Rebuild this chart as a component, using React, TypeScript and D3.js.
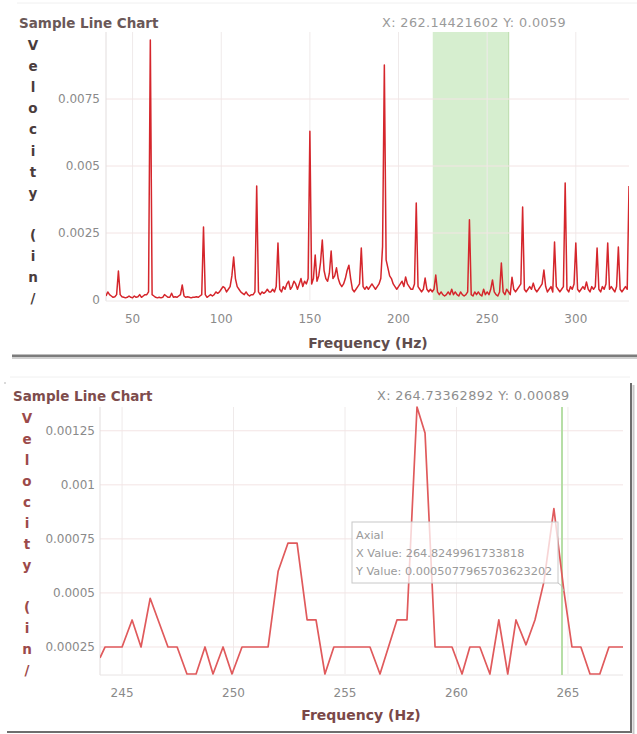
import React from "react";
import * as d3 from "d3";

// ---------- DATA ----------
// Top chart: full spectrum sampled every 1 Hz from 35 Hz to 330 Hz
const topStartHz = 35;
const topStepHz = 1;
const topVelocity = [
  0.00015, 0.0003, 0.0002, 0.00015, 0.0001, 0.00012, 0.0002, 0.00108, 0.0002, 0.00012,
  0.0001, 0.00008, 0.0001, 0.00015, 0.0001, 0.00008, 0.00015, 0.0001, 0.00012, 0.0002,
  0.0001, 0.00015, 0.0002, 0.0002, 0.0003, 0.0097, 0.0002, 0.00015, 0.0001, 0.00008,
  0.0001, 0.00008, 0.0001, 0.0002, 0.00015, 0.0001, 0.0001, 0.00025, 0.0001, 0.00012,
  0.0001, 0.00015, 0.0002, 0.00056, 0.00015, 0.0001, 0.00012, 0.0001, 0.00008, 0.0001,
  0.0001, 0.00012, 0.0001, 0.00015, 0.0002, 0.00272, 0.0002, 0.0001, 0.00015, 0.0002,
  0.00015, 0.0002, 0.0003, 0.00025, 0.0003, 0.0004, 0.0005, 0.00045, 0.0003, 0.0004,
  0.0005, 0.0009, 0.0016, 0.0008, 0.0005, 0.0004, 0.0003, 0.00025, 0.0002, 0.0003,
  0.0002, 0.00015, 0.0002, 0.0002, 0.0003, 0.00425, 0.0003, 0.0002, 0.0003, 0.00025,
  0.0003, 0.0004, 0.0003, 0.0003, 0.0004, 0.0003, 0.0005, 0.00213, 0.0004, 0.0003,
  0.0005, 0.0004, 0.0006, 0.0007, 0.0004, 0.0005, 0.0007, 0.0006, 0.0004, 0.0006,
  0.0008, 0.0005, 0.0007, 0.0006, 0.0008, 0.0063, 0.0006, 0.0008, 0.00168, 0.0007,
  0.0009, 0.0014, 0.00224, 0.0011, 0.0008, 0.0007, 0.001, 0.00183, 0.0008, 0.0009,
  0.0012, 0.0008, 0.0006, 0.0005, 0.0006, 0.0008, 0.0011, 0.0013, 0.0008, 0.0004,
  0.0003, 0.0004, 0.0005, 0.0006, 0.00194, 0.0005, 0.0004, 0.0005, 0.0004, 0.0005,
  0.0006, 0.0005, 0.0004, 0.0005, 0.0006, 0.0008, 0.002, 0.00877, 0.0015, 0.0012,
  0.0009, 0.0008, 0.0006, 0.0005, 0.0004, 0.0005, 0.0006, 0.0007, 0.0005, 0.00086,
  0.0006, 0.0005, 0.0004, 0.0004, 0.0006, 0.00362, 0.0005, 0.0004, 0.0003, 0.0004,
  0.00082, 0.0004, 0.0003, 0.0004, 0.0003, 0.0004, 0.00093, 0.0003, 0.0002, 0.0003,
  0.0002, 0.00015, 0.0002, 0.0003, 0.0002, 0.0004, 0.0002, 0.0003, 0.0002, 0.00015,
  0.0003, 0.0002, 0.00015, 0.0002, 0.0003, 0.00299, 0.0002, 0.00015, 0.0003, 0.0002,
  0.0003, 0.0002, 0.00015, 0.0004, 0.0002, 0.0003, 0.0002, 0.0004, 0.00075, 0.0003,
  0.0002, 0.00015, 0.0003, 0.00138, 0.0003, 0.0002, 0.0004, 0.0003, 0.0002, 0.00085,
  0.0004, 0.0003, 0.0004, 0.0005, 0.0006, 0.00347, 0.0004, 0.0003, 0.0004, 0.0005,
  0.0004, 0.00063, 0.0004, 0.0003, 0.0004, 0.0005, 0.0006, 0.00112, 0.0005, 0.0003,
  0.0004, 0.0005, 0.0003, 0.00216, 0.0005, 0.0004, 0.0003, 0.0004, 0.0005, 0.00437,
  0.0004, 0.0003, 0.0005, 0.0004, 0.0006, 0.00213, 0.0004, 0.0003, 0.0004, 0.0005,
  0.0004, 0.00067, 0.0004, 0.0003, 0.0005, 0.0004, 0.0005, 0.00194, 0.0004, 0.0003,
  0.0005, 0.0004, 0.0006, 0.00213, 0.0004, 0.0005, 0.0004, 0.0003, 0.0005, 0.00198,
  0.0004, 0.0003, 0.0004, 0.0005, 0.0004, 0.00425,
];
const topXTicks = [50, 100, 150, 200, 250, 300];
const topYTicks = [0, 0.0025, 0.005, 0.0075];
const topYTickLabels = ["0", "0.0025", "0.005", "0.0075"];
const topBand = [219.3, 262.14421602];
const topHeader = "X: 262.14421602 Y: 0.0059";

// Bottom chart: zoomed detail 244 - 267.5 Hz
const botFreq = [
  244.01, 244.24, 245.0, 245.45, 245.85, 246.26, 247.06, 247.47, 247.91, 248.32,
  248.72, 249.08, 249.53, 249.93, 250.38, 251.55, 252.0, 252.44, 252.85, 253.3,
  253.7, 254.1, 254.5, 256.12, 256.57, 257.33, 257.78, 258.23, 258.59, 259.04,
  259.8, 260.25, 260.6, 261.05, 261.5, 261.9, 262.3, 262.67, 263.12, 263.52,
  263.92, 264.37, 264.82, 265.18, 265.58, 265.99, 266.43, 266.84, 267.42, 267.47,
];
const botVelocity = [
  0.0002, 0.00025, 0.00025, 0.000375, 0.00025, 0.000475, 0.00025, 0.00025, 0.000125, 0.000125,
  0.00025, 0.000125, 0.00025, 0.000125, 0.00025, 0.00025, 0.0006, 0.00073, 0.00073, 0.000375,
  0.000375, 0.000125, 0.00025, 0.00025, 0.000125, 0.000375, 0.000375, 0.00136, 0.00124, 0.00025,
  0.00025, 0.000125, 0.00025, 0.00025, 0.000125, 0.000375, 0.000125, 0.000375, 0.00026, 0.000375,
  0.00055, 0.00089, 0.000508, 0.00025, 0.00025, 0.000125, 0.000125, 0.00025, 0.00025, 0.00025,
];
const botXTicks = [245, 250, 255, 260, 265];
const botYTicks = [0.00025, 0.0005, 0.00075, 0.001, 0.00125];
const botYTickLabels = ["0.00025", "0.0005", "0.00075", "0.001", "0.00125"];
const botCursorHz = 264.73362892;
const botHeader = "X: 264.73362892 Y: 0.00089";
const tooltipLines = ["Axial", "X Value: 264.8249961733818", "Y Value: 0.0005077965703623202"];
const tooltipPoint = [264.8249961733818, 0.0005077965703623202];

const chartTitle = "Sample Line Chart";
const xTitle = "Frequency (Hz)";
const yTitleChars = "Velocity (in/".split("");

const FONT = "'DejaVu Sans', Verdana, sans-serif";

export default function App() {
  // --- top scales ---
  const xTop = d3.scaleLinear().domain([35, 330]).range([106, 629]);
  const yTop = d3.scaleLinear().domain([0, 0.01]).range([300, 32]);
  const topPts: [number, number][] = topVelocity.map((v, i) => [topStartHz + i * topStepHz, v]);
  const topLine = d3
    .line<[number, number]>()
    .x((d) => xTop(d[0]))
    .y((d) => yTop(d[1]))(topPts);

  // --- bottom scales ---
  const xBot = d3.scaleLinear().domain([244.01, 267.47]).range([100, 623]);
  const yBot = d3.scaleLinear().domain([0.000125, 0.00136]).range([674, 407]);
  const botPts: [number, number][] = botFreq.map((f, i) => [f, botVelocity[i]]);
  const botLine = d3
    .line<[number, number]>()
    .x((d) => xBot(d[0]))
    .y((d) => yBot(d[1]))(botPts);

  const gridV = "#efeaea";
  const gridH = "#f3e4e4";
  const tickColor = "#8a8a8a";

  const tipX = xBot(tooltipPoint[0]);
  const tipY = yBot(tooltipPoint[1]);

  return (
    <svg
      width={637}
      height={734}
      style={{ position: "absolute", left: 0, top: 0, background: "#fff" }}
      fontFamily={FONT}
    >
      <defs>
        <clipPath id="clipTop">
          <rect x={106} y={32} width={523} height={270} />
        </clipPath>
        <clipPath id="clipBot">
          <rect x={100} y={405} width={523} height={270} />
        </clipPath>
      </defs>
      <rect x={0} y={0} width={637} height={734} fill="#fff" />

      {/* ================= TOP PANEL ================= */}
      <line x1={17} x2={637} y1={3} y2={3} stroke="#f0f0f0" />
      <text x={19} y={28} fontSize={13.5} fontWeight="bold" fill="#6a5858">
        {chartTitle}
      </text>
      <text x={382} y={27} fontSize={12.8} letterSpacing={0.4} fill="#9a9a9a">
        {topHeader}
      </text>

      {/* band */}
      <rect
        x={xTop(topBand[0])}
        y={32}
        width={xTop(topBand[1]) - xTop(topBand[0])}
        height={268}
        fill="#d6eecf"
      />
      <line
        x1={xTop(topBand[1])}
        x2={xTop(topBand[1])}
        y1={32}
        y2={300}
        stroke="#b9dcab"
        strokeWidth={1}
      />

      {/* grid */}
      {topXTicks.map((t) => (
        <line key={"tv" + t} x1={xTop(t)} x2={xTop(t)} y1={32} y2={300} stroke={gridV} />
      ))}
      {topYTicks.slice(1).map((t) => (
        <line key={"th" + t} x1={106} x2={629} y1={yTop(t)} y2={yTop(t)} stroke={gridH} />
      ))}
      <line x1={106} x2={106} y1={32} y2={301} stroke="#e2dddd" />
      <line x1={106} x2={629} y1={301} y2={301} stroke="#ece8e8" />

      {/* ticks */}
      {topYTicks.map((t, i) => (
        <text
          key={"tyl" + t}
          x={100}
          y={yTop(t)}
          textAnchor="end"
          dominantBaseline="central"
          fontSize={12}
          fill={tickColor}
        >
          {topYTickLabels[i]}
        </text>
      ))}
      {topXTicks.map((t) => (
        <text
          key={"txl" + t}
          x={xTop(t)}
          y={319}
          textAnchor="middle"
          dominantBaseline="central"
          fontSize={12}
          fill={tickColor}
        >
          {t}
        </text>
      ))}
      <text
        x={368}
        y={343}
        textAnchor="middle"
        dominantBaseline="central"
        fontSize={14}
        fontWeight="bold"
        fill="#5f4d4d"
      >
        {xTitle}
      </text>
      {yTitleChars.map((c, i) => (
        <text
          key={"tyc" + i}
          x={33}
          y={45 + i * 21.1}
          textAnchor="middle"
          dominantBaseline="central"
          fontSize={13.5}
          fontWeight="bold"
          fill="#4a3c3c"
        >
          {c}
        </text>
      ))}

      {/* series */}
      <path
        d={topLine || ""}
        fill="none"
        stroke="#d5262c"
        strokeWidth={1.5}
        strokeLinejoin="round"
        clipPath="url(#clipTop)"
      />

      {/* separator */}
      <rect x={12} y={354.5} width={625} height={2.5} fill="#7c7c7c" />
      <rect x={12} y={357} width={625} height={2} fill="#d0d0d0" />

      {/* ================= BOTTOM PANEL ================= */}
      <line x1={10} x2={630} y1={377} y2={377} stroke="#f0f0f0" />
      <circle cx={5} cy={383} r={0.8} fill="#aaa" />
      <text x={13} y={401} fontSize={13.5} fontWeight="bold" fill="#7e4c4c">
        {chartTitle}
      </text>
      <text x={377} y={400} fontSize={12.8} letterSpacing={0.4} fill="#8e8e8e">
        {botHeader}
      </text>

      {/* grid */}
      {botXTicks.map((t) => (
        <line key={"bv" + t} x1={xBot(t)} x2={xBot(t)} y1={407} y2={674} stroke={gridV} />
      ))}
      {botYTicks.map((t) => (
        <line key={"bh" + t} x1={100} x2={623} y1={yBot(t)} y2={yBot(t)} stroke={gridH} />
      ))}
      <line x1={100} x2={100} y1={407} y2={675} stroke="#e2dddd" />
      <line x1={100} x2={623} y1={675} y2={675} stroke="#e8e4e4" />

      {/* cursor */}
      <line
        x1={xBot(botCursorHz)}
        x2={xBot(botCursorHz)}
        y1={407}
        y2={675}
        stroke="#b6dea6"
        strokeWidth={2}
      />

      {/* ticks */}
      {botYTicks.map((t, i) => (
        <text
          key={"byl" + t}
          x={95}
          y={yBot(t)}
          textAnchor="end"
          dominantBaseline="central"
          fontSize={12}
          fill={tickColor}
        >
          {botYTickLabels[i]}
        </text>
      ))}
      {botXTicks.map((t) => (
        <text
          key={"bxl" + t}
          x={xBot(t)}
          y={693}
          textAnchor="middle"
          dominantBaseline="central"
          fontSize={12}
          fill={tickColor}
        >
          {t}
        </text>
      ))}
      <text
        x={361}
        y={715}
        textAnchor="middle"
        dominantBaseline="central"
        fontSize={14}
        fontWeight="bold"
        fill="#7a4848"
      >
        {xTitle}
      </text>
      {yTitleChars.map((c, i) => (
        <text
          key={"byc" + i}
          x={27}
          y={418 + i * 21}
          textAnchor="middle"
          dominantBaseline="central"
          fontSize={13.5}
          fontWeight="bold"
          fill="#9c4a4a"
        >
          {c}
        </text>
      ))}

      {/* series */}
      <path
        d={botLine || ""}
        fill="none"
        stroke="#e05a5c"
        strokeWidth={1.7}
        strokeLinejoin="round"
        clipPath="url(#clipBot)"
      />

      {/* tooltip */}
      <path
        d={`M${558},${583} Q${561},${584} ${tipX},${tipY}`}
        fill="none"
        stroke="#bbb"
        strokeWidth={1}
      />
      <rect
        x={352}
        y={522}
        width={206}
        height={61}
        fill="#fff"
        fillOpacity={0.75}
        stroke="#c8c8c8"
        strokeWidth={1}
      />
      {tooltipLines.map((s, i) => (
        <text
          key={"tt" + i}
          x={356}
          y={535 + i * 18}
          dominantBaseline="central"
          fontSize={11.3}
          fill="#9a9a9a"
        >
          {s}
        </text>
      ))}

      {/* card frame */}
      <line x1={631} x2={631} y1={383} y2={733} stroke="#6e6e6e" strokeWidth={2} />
      <line x1={633.5} x2={633.5} y1={385} y2={734} stroke="#c8c8c8" strokeWidth={2} />
      <line x1={7} x2={632} y1={732} y2={732} stroke="#6e6e6e" strokeWidth={2} />
    </svg>
  );
}
